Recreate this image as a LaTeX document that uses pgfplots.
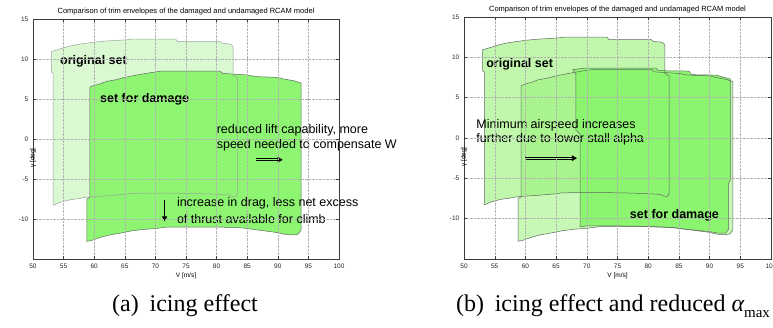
\documentclass[border=0pt]{standalone}
\usepackage{fontspec}
\setmainfont{Liberation Serif}
\setsansfont{Liberation Sans}
\usepackage{pgfplots}
\pgfplotsset{compat=1.18}
\usepackage{pgfplotstable}
\usetikzlibrary{arrows.meta}

\definecolor{lightO}{HTML}{DAF9D2}
\definecolor{brightD}{HTML}{8EF572}
\definecolor{gbase}{HTML}{96F175}
\definecolor{brightR}{HTML}{8CF570}
\definecolor{overlapOD}{HTML}{A9F592}
\definecolor{edgeO}{HTML}{98A498}
\definecolor{edgeD}{HTML}{5E6B5E}
\definecolor{axc}{HTML}{3C3C3C}

% original trim envelope
\pgfplotstableread{
x y
53.05 8.3
53.05 10.95
53.8 11.1
55.0 11.4
56.0 11.6
57.1 11.8
58.5 11.95
59.9 12.1
62.0 12.25
65.3 12.4
66.2 12.5
73.3 12.5
73.6 12.2
80.5 12.2
80.9 11.95
82.0 11.9
82.5 11.75
82.7 11.5
82.7 8.0
83.4 7.7
83.4 -6.9
83.1 -7.25
82.6 -7.2
82.0 -7.0
80.0 -6.9
76.0 -6.8
70.0 -6.75
66.0 -6.8
64.5 -6.95
62.0 -7.1
60.0 -7.2
58.5 -7.3
57.5 -7.45
56.0 -7.6
54.5 -7.9
53.6 -8.2
53.3 -8.25
53.3 8.2
}\Otab

% envelope with icing effect
\pgfplotstableread{
x y
59.3 6.5
60.0 6.7
61.0 6.9
62.0 7.2
63.5 7.4
65.0 7.7
67.0 8.0
68.5 8.2
71.0 8.5
80.5 8.5
81.0 8.2
85.0 8.0
86.5 7.8
90.0 7.7
91.0 7.5
92.5 7.3
93.8 7.0
93.8 -11.4
93.3 -11.9
92.5 -12.0
91.0 -11.9
90.0 -11.7
88.0 -11.5
86.0 -11.3
84.0 -11.1
80.0 -11.0
72.0 -11.0
70.0 -11.2
68.0 -11.3
66.0 -11.5
64.0 -11.8
62.5 -12.0
61.0 -12.3
59.5 -12.7
58.8 -12.8
58.8 -7.5
59.3 -7.3
}\Dtab

% envelope with icing effect and reduced alpha max
\pgfplotstableread{
x y
67.7 8.45
68.5 8.55
69.5 8.65
81.3 8.65
81.6 8.35
86.7 8.3
87.0 7.85
91.1 7.8
92.0 7.6
93.4 7.3
93.4 -5.2
93.1 -5.6
93.1 -11.3
92.6 -11.8
91.5 -11.8
90.0 -11.6
88.0 -11.45
86.0 -11.3
84.0 -11.1
80.0 -10.95
75.0 -10.9
70.0 -10.9
68.9 -11.0
68.9 0.5
68.2 1.0
68.2 8.0
}\Rtab

\pgfplotsset{trimstyle/.style={
  scale only axis, xmin=50, xmax=100, ymin=-15, ymax=15,
  xtick={50,55,...,100}, ytick={-10,-5,...,15},
  grid=major, major grid style={densely dotted, color=gray!60, line width=0.4pt},
  axis line style={axc, line width=0.5pt},
  tick style={axc, line width=0.4pt}, major tick length=3pt,
  tick align=inside, axis on top,
  ticklabel style={font=\sffamily\fontsize{6.5}{7}\selectfont, text=black!85},
  /pgf/number format/assume math mode=true,
  xticklabel style={anchor=center, yshift=-7.7pt},
  yticklabel style={anchor=east, inner sep=0pt, xshift=-4.5pt},
  xlabel style={font=\sffamily\fontsize{6.5}{7}\selectfont, at={(axis description cs:0.5,0)}, anchor=center, yshift=-17pt},
  ylabel style={font=\sffamily\fontsize{6.5}{7}\selectfont, at={(axis description cs:0,0.5)}, anchor=center, xshift=-19pt},
  xlabel={V [m/s]}, ylabel={γ [deg]},
  clip=false,
  every axis plot/.append style={mark=none},
}}
\newcommand{\ttl}{Comparison of trim envelopes of the damaged and undamaged RCAM model}

\begin{document}
\begin{tikzpicture}[font=\sffamily]
\useasboundingbox (0pt,0pt) rectangle (773pt,-327pt);

% ---------------- (a) ----------------
\begin{axis}[trimstyle, at={(33pt,-259pt)}, anchor=south west, width=306pt, height=240pt]
\addplot[fill=lightO, draw=none] table {\Otab} -- cycle;
\addplot[fill=brightD, draw=none] table {\Dtab} -- cycle;
\addplot[draw=edgeO, line width=0.5pt] table {\Otab} -- cycle;
\addplot[draw=edgeD, line width=0.5pt] table {\Dtab} -- cycle;

\node[inner sep=0pt, font=\sffamily\fontsize{7.5}{8}\selectfont] at (rel axis cs:0.5,1) [yshift=7.8pt] {\ttl};
\node[anchor=west, inner sep=0pt, font=\sffamily\fontsize{12.5}{15}\selectfont\bfseries] at (axis cs:54.4,9.7) {original set};
\node[anchor=west, inner sep=0pt, font=\sffamily\fontsize{12.5}{15}\selectfont\bfseries] at (axis cs:60.95,5.0) {set for damage};
\node[anchor=west, inner sep=0pt, font=\sffamily\fontsize{12.5}{15}\selectfont] at (axis cs:80.0,1.15) {reduced lift capability, more};
\node[anchor=west, inner sep=0pt, font=\sffamily\fontsize{12.5}{15}\selectfont] at (axis cs:80.0,-0.75) {speed needed to compensate W};
\node[anchor=west, inner sep=0pt, font=\sffamily\fontsize{12.5}{15}\selectfont] at (axis cs:73.5,-8.0) {increase in drag, less net excess};
\node[anchor=west, inner sep=0pt, font=\sffamily\fontsize{12.5}{15}\selectfont] at (axis cs:73.5,-10.05) {of thrust available for climb};
\draw[double=brightD, double distance=1.3pt, line width=0.7pt, -{Triangle[length=5pt,width=5.5pt]}] (axis cs:86.5,-2.6) -- (axis cs:90.8,-2.6);
\draw[line width=1.3pt, -{Triangle[length=5pt,width=5pt]}] (axis cs:71.5,-7.6) -- (axis cs:71.5,-10.3);
\end{axis}

% ---------------- (b) ----------------
\begin{axis}[trimstyle, at={(464pt,-259pt)}, anchor=south west, width=307pt, height=242pt]
\addplot[fill=gbase, fill opacity=0.6, draw=none] table {\Otab} -- cycle;
\addplot[fill=gbase, fill opacity=0.53, draw=none] table {\Dtab} -- cycle;
\addplot[fill=brightR, draw=none] table {\Rtab} -- cycle;
\addplot[draw=edgeD, line width=0.5pt] table {\Otab} -- cycle;
\addplot[draw=edgeD, line width=0.5pt] table {\Dtab} -- cycle;
\addplot[draw=edgeD, line width=0.5pt] table {\Rtab} -- cycle;

\node[inner sep=0pt, font=\sffamily\fontsize{7.5}{8}\selectfont] at (rel axis cs:0.5,1) [yshift=7.8pt] {\ttl};
\node[anchor=west, inner sep=0pt, font=\sffamily\fontsize{12.5}{15}\selectfont\bfseries] at (axis cs:53.6,9.1) {original set};
\node[anchor=west, inner sep=0pt, font=\sffamily\fontsize{12.5}{15}\selectfont\bfseries] at (axis cs:77.0,-9.6) {set for damage};
\node[anchor=west, inner sep=0pt, font=\sffamily\fontsize{12.5}{15}\selectfont] at (axis cs:52.0,1.6) {Minimum airspeed increases};
\node[anchor=west, inner sep=0pt, font=\sffamily\fontsize{12.5}{15}\selectfont] at (axis cs:52.0,-0.1) {further due to lower stall alpha};
\draw[double=overlapOD, double distance=1.3pt, line width=0.7pt, -{Triangle[length=5pt,width=5.5pt]}] (axis cs:59.9,-2.5) -- (axis cs:68.4,-2.5);
\end{axis}

% ---------------- captions ----------------
\node[font=\rmfamily\fontsize{24}{28}\selectfont, inner sep=0pt] at (185pt,-306pt) {(a)\hspace{0.45em}icing effect};
\node[font=\rmfamily\fontsize{24}{28}\selectfont, inner sep=0pt] at (613pt,-306pt) {(b)\hspace{0.45em}icing effect and reduced {\itshape α}\raisebox{-0.25em}{\fontsize{15}{17}\selectfont max}};
\end{tikzpicture}
\end{document}
